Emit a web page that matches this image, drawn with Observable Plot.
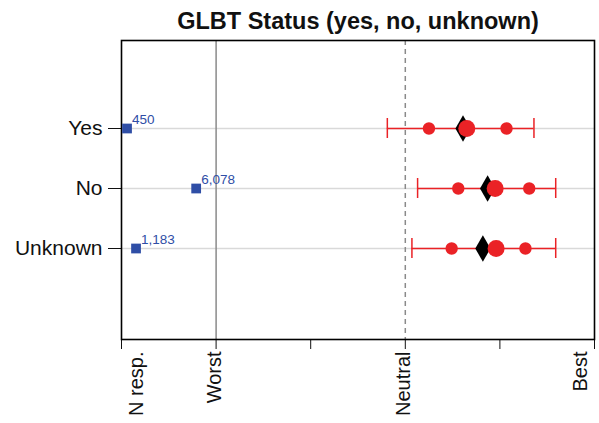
<!DOCTYPE html>
<html><head><meta charset="utf-8">
<script src="https://cdn.jsdelivr.net/npm/d3@7"></script>
<script src="https://cdn.jsdelivr.net/npm/@observablehq/plot@0.6"></script>
<style>body{margin:0;background:#fff;font-family:"Liberation Sans",Arial,sans-serif}</style>
</head><body><div id="chart"></div>
<script>
const title = "GLBT Status (yes, no, unknown)";
const categories = ["Yes", "No", "Unknown"];
const nResp = [450, 6078, 1183];
const nResp_labels = ["450", "6,078", "1,183"];
const whiskerLow = [2.81, 3.13, 3.07];
const lowDot = [3.25, 3.56, 3.49];
const median = [3.61, 3.87, 3.82];
const mean = [3.65, 3.95, 3.96];
const highDot = [4.07, 4.31, 4.27];
const whiskerHigh = [4.36, 4.59, 4.59];
const xTickValues = [0, 1, 2, 3, 4, 5];
const xTickLabels = ["N resp.", "Worst", "", "Neutral", "", "Best"];
const nAxisMax = 7700; // response count that would reach the "Worst" position

const red = "#ea2226";
const blue = "#2f4ea6";

const rows = categories.map((c, i) => ({
  cat: c, n: nResp[i], nLabel: nResp_labels[i], nx: nResp[i] / nAxisMax,
  lo: whiskerLow[i], q1: lowDot[i], med: median[i], mean: mean[i], q3: highDot[i], hi: whiskerHigh[i]
}));
const xLabels = xTickValues.map((v, i) => ({v, label: xTickLabels[i]}));
const last = xLabels.length - 1;

const xLabelOpts = {x: "v", text: "label", frameAnchor: "bottom", rotate: -90, textAnchor: "end", lineAnchor: "middle", fontSize: 20, fill: "#111"};

const chart = Plot.plot({
  width: 599, height: 423,
  marginLeft: 121, marginRight: 5, marginTop: 40, marginBottom: 84,
  x: {domain: [0, 5], ticks: xTickValues, tickFormat: () => "", tickSize: 10, label: null},
  y: {domain: categories, type: "band", paddingInner: 0.669, paddingOuter: 1.305, align: 0.49, tickSize: 13, tickPadding: 6, label: null},
  style: {fontFamily: "'Liberation Sans', Arial, sans-serif", fontSize: "21px", color: "#111", background: "#fff"},
  marks: [
    Plot.ruleY(categories, {y: d => d, stroke: "#d9d9d9", strokeWidth: 1.5}),
    Plot.ruleX([1], {stroke: "#8a8a8a", strokeWidth: 1.5}),
    Plot.ruleX([3], {stroke: "#8a8a8a", strokeWidth: 1.5, strokeDasharray: "5,4"}),
    Plot.frame({stroke: "#000", strokeWidth: 1.6}),
    Plot.ruleY(rows, {y: "cat", x1: "lo", x2: "hi", stroke: red, strokeWidth: 1.5}),
    Plot.tickX(rows, {x: "lo", y: "cat", stroke: red, strokeWidth: 1.5}),
    Plot.tickX(rows, {x: "hi", y: "cat", stroke: red, strokeWidth: 1.5}),
    Plot.dot(rows, {x: "q1", y: "cat", r: 6.2, fill: red}),
    Plot.dot(rows, {x: "q3", y: "cat", r: 6.2, fill: red}),
    Plot.dot(rows, {x: "med", y: "cat", r: 8, symbol: "diamond", fill: "#000"}),
    Plot.dot(rows, {x: "mean", y: "cat", r: 8.5, fill: red}),
    Plot.dot(rows, {x: "nx", y: "cat", r: 5.5, symbol: "square", fill: blue}),
    Plot.text(rows, {x: "nx", y: "cat", text: "nLabel", fill: blue, fontSize: 13.5, textAnchor: "start", lineAnchor: "bottom", dx: 5, dy: -5}),
    Plot.text(xLabels.filter((d, i) => i === 0), {...xLabelOpts, dx: 15, dy: 12}),
    Plot.text(xLabels.filter((d, i) => i > 0 && i < last), {...xLabelOpts, dx: -2, dy: 12}),
    Plot.text(xLabels.filter((d, i) => i === last), {...xLabelOpts, dx: -14, dy: 12}),
    Plot.text([title], {frameAnchor: "top", lineAnchor: "middle", dy: -19, fontSize: 23.5, fontWeight: "bold", fill: "#111"})
  ]
});
document.getElementById("chart").appendChild(chart);
</script>
</body></html>
